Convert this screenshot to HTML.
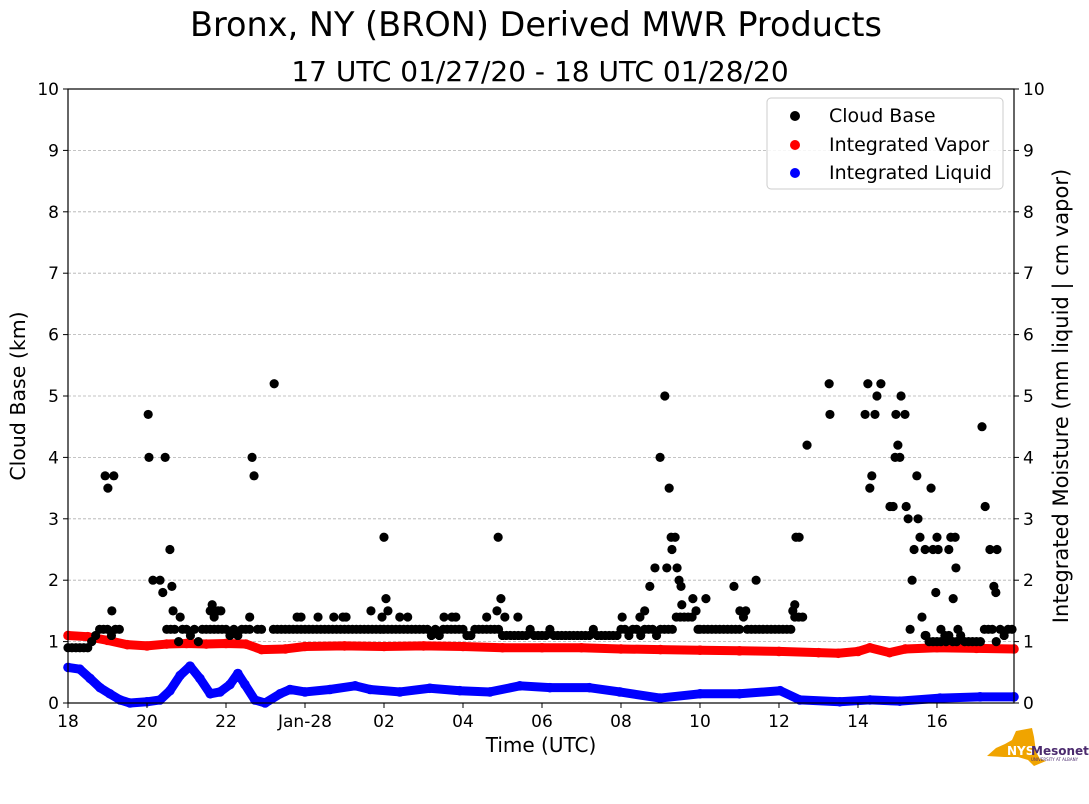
<!DOCTYPE html>
<html><head><meta charset="utf-8"><style>
body{margin:0;background:#fff;}
svg{display:block;font-family:"DejaVu Sans","Liberation Sans",sans-serif;}
</style></head><body>
<svg id="chart" width="1089" height="804" viewBox="0 0 1089 804">
<text x="536" y="36" font-size="33.5" text-anchor="middle">Bronx, NY (BRON) Derived MWR Products</text>
<text x="540" y="81" font-size="28" text-anchor="middle">17 UTC 01/27/20 - 18 UTC 01/28/20</text>
<g id="grid"></g>
<g id="liq"></g>
<g id="vap"></g>
<g id="cb"></g>
<rect x="68" y="89" width="946" height="614" fill="none" stroke="#000" stroke-width="1.2"/>
<g id="axes" font-size="17"></g>
<text x="541" y="752" font-size="20" text-anchor="middle">Time (UTC)</text>
<text transform="translate(25,396) rotate(-90)" font-size="20.5" text-anchor="middle">Cloud Base (km)</text>
<text transform="translate(1068,396) rotate(-90)" font-size="21" text-anchor="middle">Integrated Moisture (mm liquid | cm vapor)</text>
<g>
<rect x="767" y="98" width="236" height="91" rx="4" fill="#fff" fill-opacity="0.85" stroke="#ccc"/>
<circle cx="795" cy="116" r="5" fill="#000"/><text x="829" y="122" font-size="19">Cloud Base</text>
<circle cx="795" cy="145" r="5" fill="red"/><text x="829" y="151" font-size="19">Integrated Vapor</text>
<circle cx="795" cy="173" r="5" fill="blue"/><text x="829" y="179" font-size="19">Integrated Liquid</text>
</g>
<g>
<polygon points="996,748 1005,744 1012,740 1016,731 1032,728 1034,737 1036,752 1040,759 1046,761 1034,766 1028,760 1018,757 1004,757 987,756" fill="#f0a400"/>
<text x="1007" y="755" font-size="12" font-weight="bold" fill="#fff">NYS</text>
<text x="1031" y="755" font-size="12" font-weight="bold" fill="#4b2a6e">Mesonet</text>
<text x="1031" y="761" font-size="4" fill="#4b2a6e">UNIVERSITY AT ALBANY</text>
</g>
</svg>
<script>
const xTickLabels=["18","20","22","Jan-28","02","04","06","08","10","12","14","16"];
const xTickHours=[0,2,4,6,8,10,12,14,16,18,20,22];
const yTicks=[0,1,2,3,4,5,6,7,8,9,10];
const cbBase=[0.9,0.9,0.9,0.9,0.9,0.9,1.0,1.1,1.2,1.2,
1.2,1.1,1.2,1.2,null,null,null,null,null,null,
null,null,null,null,null,1.2,1.2,1.2,1.0,1.2,
1.2,1.1,1.2,1.0,1.2,1.2,1.2,1.2,1.2,1.2,
1.2,1.1,1.2,1.1,1.2,1.2,1.2,null,1.2,1.2,
null,null,1.2,1.2,1.2,1.2,1.2,1.2,1.2,1.2,
1.2,1.2,1.2,1.2,1.2,1.2,1.2,1.2,1.2,1.2,
1.2,1.2,1.2,1.2,1.2,1.2,1.2,1.2,1.2,1.2,
1.2,1.2,1.2,1.2,1.2,1.2,1.2,1.2,1.2,1.2,
1.2,1.2,1.1,1.2,1.1,1.2,1.2,1.2,1.2,1.2,
1.2,1.1,1.1,1.2,1.2,1.2,1.2,1.2,1.2,1.2,
1.1,1.1,1.1,1.1,1.1,1.1,1.1,1.2,1.1,1.1,
1.1,1.1,1.2,1.1,1.1,1.1,1.1,1.1,1.1,1.1,
1.1,1.1,1.1,1.2,1.1,1.1,1.1,1.1,1.1,1.1,
1.2,1.2,1.1,1.2,1.2,1.1,1.2,1.2,1.2,1.1,
1.2,1.2,1.2,1.2,1.4,1.4,1.4,1.4,1.4,1.5,
1.2,1.2,1.2,1.2,1.2,1.2,1.2,1.2,1.2,1.2,
1.2,1.4,1.2,1.2,1.2,1.2,1.2,1.2,1.2,1.2,
1.2,1.2,1.2,1.2,1.4,1.4,1.4,null,null,null,
null,null,null,null,null,null,null,null,null,null,
null,null,null,null,null,null,null,null,null,null,
null,null,null,null,null,null,null,1.1,1.0,1.0,
1.0,1.2,1.1,1.1,1.0,1.0,1.1,1.0,1.0,1.0,
1.0,1.0,1.2,1.2,1.2,1.0,1.2,1.1,1.2,1.2];
const cbExtraH=[0.94,1.01,1.16,1.11,2.03,2.05,2.15,2.33,2.4,2.46,2.58,2.63,2.66,2.84,3.6,3.65,3.7,3.8,3.87,4.6,4.66,4.71,5.22,5.8,5.9,6.33,6.73,6.96,7.04,7.67,7.95,8.0,8.05,8.1,8.4,8.6,9.52,9.72,9.82,10.6,10.86,10.89,10.96,11.06,11.39,14.03,14.48,14.6,14.73,14.86,14.99,15.11,15.16,15.22,15.27,15.29,15.37,15.42,15.47,15.52,15.54,15.82,16.15,15.95,16.86,17.01,17.16,17.42,18.35,18.4,18.43,18.51,18.71,19.27,19.29,20.18,20.25,20.3,20.35,20.43,20.48,20.58,20.81,20.89,20.94,20.96,21.01,21.06,21.09,21.19,21.22,21.27,21.32,21.37,21.42,21.49,21.52,21.57,21.62,21.7,21.72,21.85,21.9,21.97,22.0,22.03,22.1,22.23,22.3,22.35,22.41,22.46,22.48,22.53,23.14,23.22,23.34,23.44,23.49,23.52];
const cbExtraV=[3.7,3.5,3.7,1.5,4.7,4.0,2.0,2.0,1.8,4.0,2.5,1.9,1.5,1.4,1.5,1.6,1.4,1.5,1.5,1.4,4.0,3.7,5.2,1.4,1.4,1.4,1.4,1.4,1.4,1.5,1.4,2.7,1.7,1.5,1.4,1.4,1.4,1.4,1.4,1.4,1.5,2.7,1.7,1.4,1.4,1.4,1.4,1.5,1.9,2.2,4.0,5.0,2.2,3.5,2.7,2.5,2.7,2.2,2.0,1.9,1.6,1.7,1.7,1.2,1.9,1.5,1.5,2.0,1.5,1.6,2.7,2.7,4.2,5.2,4.7,4.7,5.2,3.5,3.7,4.7,5.0,5.2,3.2,3.2,4.0,4.7,4.2,4.0,5.0,4.7,3.2,3.0,1.2,2.0,2.5,3.7,3.0,2.7,1.4,2.5,1.1,3.5,2.5,1.8,2.7,2.5,1.0,1.0,2.5,2.7,1.7,2.7,2.2,1.2,4.5,3.2,2.5,1.9,1.8,2.5];
const vapH=[0,0.5,1,1.5,2,2.5,3,3.5,4,4.5,4.9,5.5,6,7,8,9,10,11,12,13,14,15,16,17,18,19,19.5,20,20.3,20.8,21.2,22,23,23.95];
const vapV=[1.1,1.08,1.02,0.95,0.93,0.96,0.97,0.96,0.97,0.96,0.87,0.88,0.92,0.93,0.92,0.93,0.92,0.9,0.9,0.9,0.88,0.87,0.86,0.85,0.84,0.82,0.81,0.84,0.9,0.82,0.88,0.9,0.89,0.88];
const liqH=[0,0.3,0.56,0.81,1.06,1.32,1.57,2.0,2.33,2.58,2.84,3.09,3.34,3.6,3.85,4.1,4.3,4.48,4.73,4.99,5.37,5.62,6.0,6.63,7.27,7.65,8.4,9.16,9.92,10.68,11.44,12.2,13.2,13.97,14.99,16.0,17.0,18.03,18.53,19.54,20.3,21.06,22.08,23.09,23.95];
const liqV=[0.58,0.55,0.4,0.25,0.15,0.05,0,0.02,0.05,0.2,0.45,0.6,0.4,0.15,0.18,0.3,0.48,0.3,0.05,0,0.15,0.22,0.18,0.22,0.28,0.22,0.18,0.24,0.2,0.18,0.28,0.25,0.25,0.18,0.08,0.15,0.15,0.2,0.05,0.02,0.05,0.03,0.08,0.1,0.1];

const NS="http://www.w3.org/2000/svg";
const X0=68,X1=1014,Y0=703,Y1=89,HMAX=23.95;
function xs(h){return X0+h/HMAX*(X1-X0);}
function ys(v){return Y0-v/10*(Y0-Y1);}
function mk(tag,parent,attrs){const e=document.createElementNS(NS,tag);for(const k in attrs)e.setAttribute(k,attrs[k]);parent.appendChild(e);return e;}
const grid=document.getElementById('grid'),axes=document.getElementById('axes');
yTicks.forEach(t=>{
  if(t>0&&t<10){const l=mk('line',grid,{x1:X0,x2:X1,y1:ys(t),y2:ys(t),stroke:'#b0b0b0','stroke-dasharray':'3,2','stroke-width':0.8});
  
  }
  mk('line',axes,{x1:X0-5,x2:X0,y1:ys(t),y2:ys(t),stroke:'#000'});
  mk('line',axes,{x1:X1,x2:X1+5,y1:ys(t),y2:ys(t),stroke:'#000'});
  const a=mk('text',axes,{x:X0-9,y:ys(t)+6,'text-anchor':'end'});a.textContent=t;
  
  
  const b=mk('text',axes,{x:X1+9,y:ys(t)+6});b.textContent=t;
  
  
});
xTickHours.forEach((h,i)=>{
  mk('line',axes,{x1:xs(h),x2:xs(h),y1:Y0,y2:Y0+5,stroke:'#000'});
  const t=mk('text',axes,{x:xs(h),y:Y0+24,'text-anchor':'middle'});t.textContent=xTickLabels[i];
  
  
});
function series(g,H,V,color){
  const pts=H.map((h,i)=>xs(h)+','+ys(V[i])).join(' ');
  const pl=mk('polyline',g,{points:pts,fill:'none',stroke:color,'stroke-width':9,'stroke-linejoin':'round','stroke-linecap':'round'});
  
  
  H.forEach((h,i)=>{const c=mk('circle',g,{cx:xs(h),cy:ys(V[i]),r:4.8,fill:color});
    
    });
}
series(document.getElementById('liq'),liqH,liqV,'blue');
series(document.getElementById('vap'),vapH,vapV,'red');
const cb=document.getElementById('cb');
cbBase.forEach((v,i)=>{if(v===null)return;
  const c=mk('circle',cb,{cx:xs(i*0.1),cy:ys(v),r:4.6,fill:'#000'});
  
  });
cbExtraH.forEach((h,i)=>{
  const c=mk('circle',cb,{cx:xs(h),cy:ys(cbExtraV[i]),r:4.6,fill:'#000'});
  
  });
</script>
</body></html>
